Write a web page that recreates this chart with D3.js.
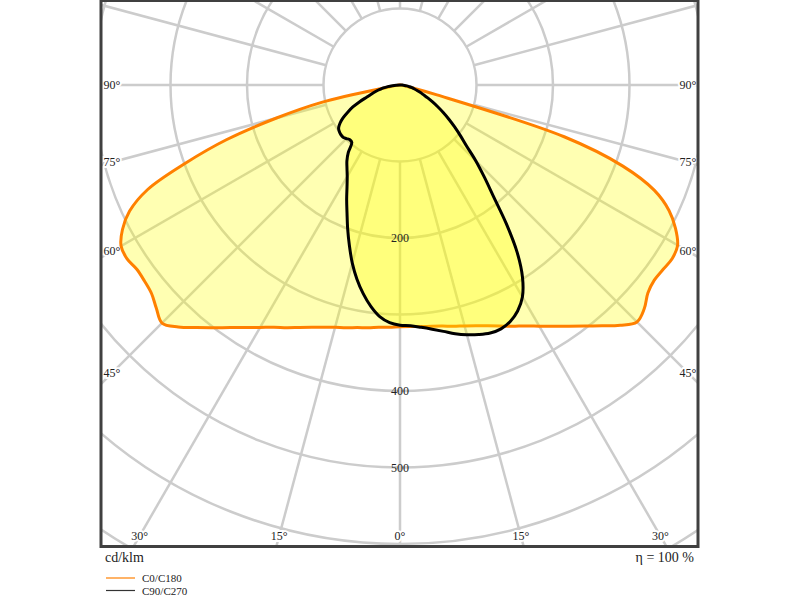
<!DOCTYPE html>
<html><head><meta charset="utf-8">
<script src="https://cdn.jsdelivr.net/npm/d3@7"></script>
<style>body{margin:0;background:#fff} text{font-family:"Liberation Serif","Times New Roman",serif;fill:#222}</style>
</head><body><svg id="chart" width="800" height="600"></svg>
<script>
// Gamma angles (degrees from nadir)
const gammaAngles = [0,2.5,5,7.5,10,12.5,15,17.5,20,22.5,25,27.5,30,32.5,35,37.5,40,42.5,45,47.5,50,52.5,55,57.5,60,62.5,65,67.5,70,72.5,75,77.5,80,82.5,85,87.5,90];
// Luminous intensity, cd/klm
const c0Values   = [316,316,317,318,320,323,326,330,335,341,348,355,364,374,385,397,411,426,438,433,423,419,420,422,419,406,388,360,310,225,50,12,5,3,2,1,0];
const c180Values = [316,317,318,320,322,325,328,332,337,343,350,357,366,376,387,400,414,429,440,432,424,421,420,423,421,409,390,357,298,238,168,105,15,6,3,1,0];
const c90Values  = [314,315,318,322,327,333,338,342,345,345,341,333,320,298,267,228,190,163,140,118,103,90,78,67,57,48,40,33,28,23,19,16,12,9,6,3,0];
const c270Values = [314,311,304,292,277,260,241,220,200,181,165,150,138,129,121,111,98,97,99,101,101,100,98,93,86,77,68,57,46,39,33,27,22,16,10,5,0];

const ringValues = [100,200,300,400,500,600,700,800,900];
const ringLabels = [200,400,500];
const angleTicks = [0,15,30,45,60,75,90];
const seriesNames = ["C0/C180","C90/C270"];
const seriesColors = ["#ff8000","#000000"];
const legendColors = ["#ff8000","#333333"];

const svg = d3.select("#chart");
const cx = 400, cy = 85;
const box = {x:101, y:0.5, w:597, h:546};
const r = d3.scaleLinear().domain([0,100]).range([0,76.5]);
const rad = d => d*Math.PI/180;

svg.append("defs").append("clipPath").attr("id","clip")
  .append("rect").attr("x",box.x).attr("y",box.y).attr("width",box.w).attr("height",box.h);

const plot = svg.append("g").attr("clip-path","url(#clip)");
const grid = plot.append("g").attr("fill","none").attr("stroke","#cccccc").attr("stroke-width",2.5);

grid.selectAll("circle").data(ringValues).join("circle")
  .attr("cx",cx).attr("cy",cy).attr("r",d=>r(d));

const spokes = d3.range(0,360,15);
grid.selectAll("line").data(spokes).join("line")
  .attr("x1",d=>cx+r(100)*Math.sin(rad(d))).attr("y1",d=>cy+r(100)*Math.cos(rad(d)))
  .attr("x2",d=>cx+r(1200)*Math.sin(rad(d))).attr("y2",d=>cy+r(1200)*Math.cos(rad(d)));

// angle labels
const inset = {x0:112, x1:688, y1:536};
const angLabels = [];
angleTicks.forEach(t=>{
  [-1,1].forEach(side=>{
    if(t===0 && side===-1) return;
    const dx = side*Math.sin(rad(t)), dy = Math.cos(rad(t));
    let s = Infinity;
    if(Math.abs(dx)>1e-9) s = Math.min(s, (side>0 ? inset.x1-cx : cx-inset.x0)/Math.abs(dx));
    if(dy>1e-9) s = Math.min(s, (inset.y1-cy)/dy);
    angLabels.push({t, x: cx+s*dx, y: cy+s*dy});
  });
});
plot.selectAll("text.ang").data(angLabels).join("text").attr("class","ang")
  .attr("x",d=>d.x).attr("y",d=>d.y).attr("text-anchor","middle")
  .attr("dominant-baseline","central").attr("font-size",12)
  .attr("stroke","#fff").attr("stroke-width",4).attr("paint-order","stroke")
  .text(d=>d.t+"°");

function shapePoints(leftVals, rightVals){
  const pts = [];
  for(let i=gammaAngles.length-1;i>=1;i--) pts.push([Math.PI+rad(gammaAngles[i]), r(leftVals[i])]);
  for(let i=0;i<gammaAngles.length;i++) pts.push([Math.PI-rad(gammaAngles[i]), r(rightVals[i])]);
  return pts;
}
const radial = d3.lineRadial().angle(d=>d[0]).radius(d=>d[1]).curve(d3.curveCatmullRom.alpha(0.5));

const curves = [
  {pts: shapePoints(c180Values, c0Values), color: seriesColors[0]},
  {pts: shapePoints(c270Values, c90Values), color: seriesColors[1]}
];
const cg = plot.append("g").attr("transform",`translate(${cx},${cy})`);
curves.forEach(c=>{
  cg.append("path").attr("d", radial(c.pts)+"Z")
    .attr("fill","#ffff00").attr("fill-opacity",0.3)
    .attr("stroke",c.color).attr("stroke-width",3).attr("stroke-linejoin","round");
});

// ring labels (on top)
plot.selectAll("text.ring").data(ringLabels).join("text").attr("class","ring")
  .attr("x",cx).attr("y",d=>cy+r(d)).attr("text-anchor","middle")
  .attr("dominant-baseline","central").attr("font-size",12)
  .text(d=>d);

// frame
svg.append("rect").attr("x",box.x).attr("y",box.y).attr("width",box.w).attr("height",box.h)
  .attr("fill","none").attr("stroke","#404040").attr("stroke-width",3);

svg.append("text").attr("x",105).attr("y",557).attr("dominant-baseline","central")
  .attr("font-size",14).text("cd/klm");
svg.append("text").attr("x",694).attr("y",557).attr("dominant-baseline","central")
  .attr("text-anchor","end").attr("font-size",14).text("η = 100 %");

const leg = svg.append("g");
seriesNames.forEach((n,i)=>{
  const y = 578 + i*12.5;
  leg.append("line").attr("x1",106).attr("x2",135).attr("y1",y).attr("y2",y)
    .attr("stroke",legendColors[i]).attr("stroke-width",1.2);
  leg.append("text").attr("x",142).attr("y",y).attr("dominant-baseline","central")
    .attr("font-size",11).text(n);
});
</script></body></html>
